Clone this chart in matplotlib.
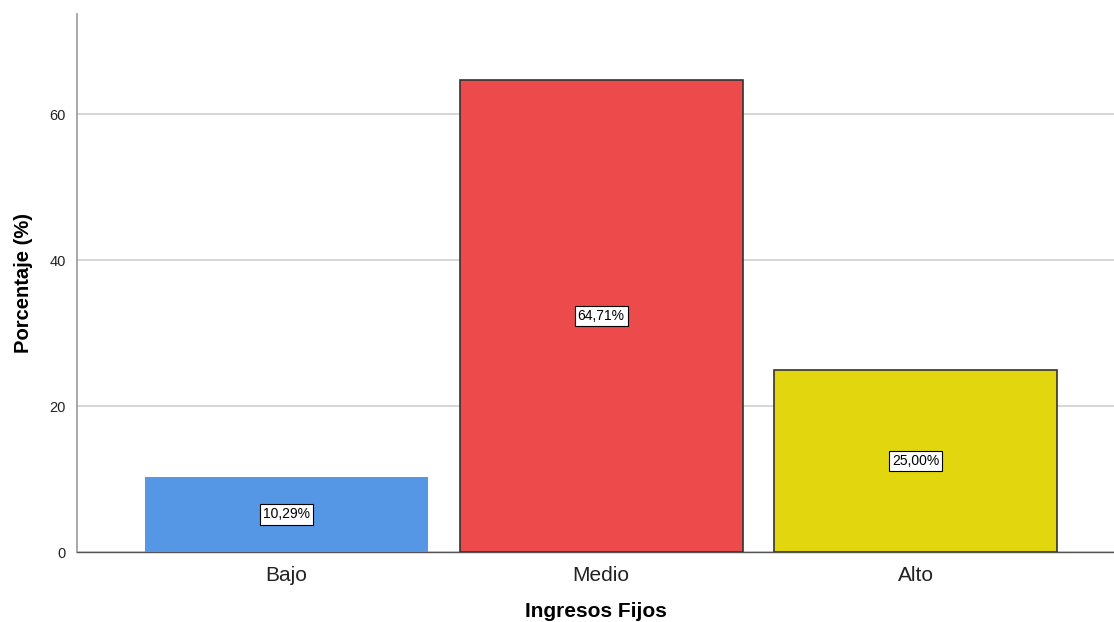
import matplotlib.pyplot as plt

plt.rcParams['font.family'] = ['Liberation Sans', 'DejaVu Sans']

categorias = ['Bajo', 'Medio', 'Alto']
porcentajes = [10.29, 64.71, 25.00]
colores = ['#5596e5', '#ec4a4b', '#e2d70f']
bordes = ['none', '#333333', '#333333']

fig = plt.figure(figsize=(11.14, 6.22), dpi=100)
ax = fig.add_axes([0.0691, 0.1125, 0.9309, 0.865])

x = range(len(categorias))
for i, (v, c, e) in enumerate(zip(porcentajes, colores, bordes)):
    ax.bar(i, v, width=0.9, color=c, edgecolor=e, linewidth=1.2, zorder=3)
    etiqueta = f'{v:.2f}%'.replace('.', ',')
    ax.text(i, v / 2, etiqueta, ha='center', va='center', fontsize=10, zorder=4,
            bbox=dict(boxstyle='square,pad=0.22', fc='white', ec='black', lw=0.8))

ax.set_xlim(-0.666, 2.63)
ax.set_ylim(0, 73.7)
ax.set_yticks([0, 20, 40, 60])
ax.set_xticks(list(x))
ax.set_xticklabels(categorias, fontsize=15, color='#222222')
ax.tick_params(axis='y', labelsize=10.5, length=0, pad=8, colors='#222222')
ax.tick_params(axis='x', length=0, pad=10)
ax.yaxis.grid(True, color='#d0d0d0', linewidth=1.2, zorder=0)

for s in ['top', 'right']:
    ax.spines[s].set_visible(False)
ax.spines['left'].set_color('#999999')
ax.spines['left'].set_linewidth(1.2)
ax.spines['bottom'].set_color('#555555')
ax.spines['bottom'].set_linewidth(1.0)

ax.set_ylabel('Porcentaje (%)', fontsize=14.5, fontweight='bold', labelpad=12)
ax.set_xlabel('Ingresos Fijos', fontsize=15, fontweight='bold', labelpad=12)

fig.savefig('out.png', dpi=100)
